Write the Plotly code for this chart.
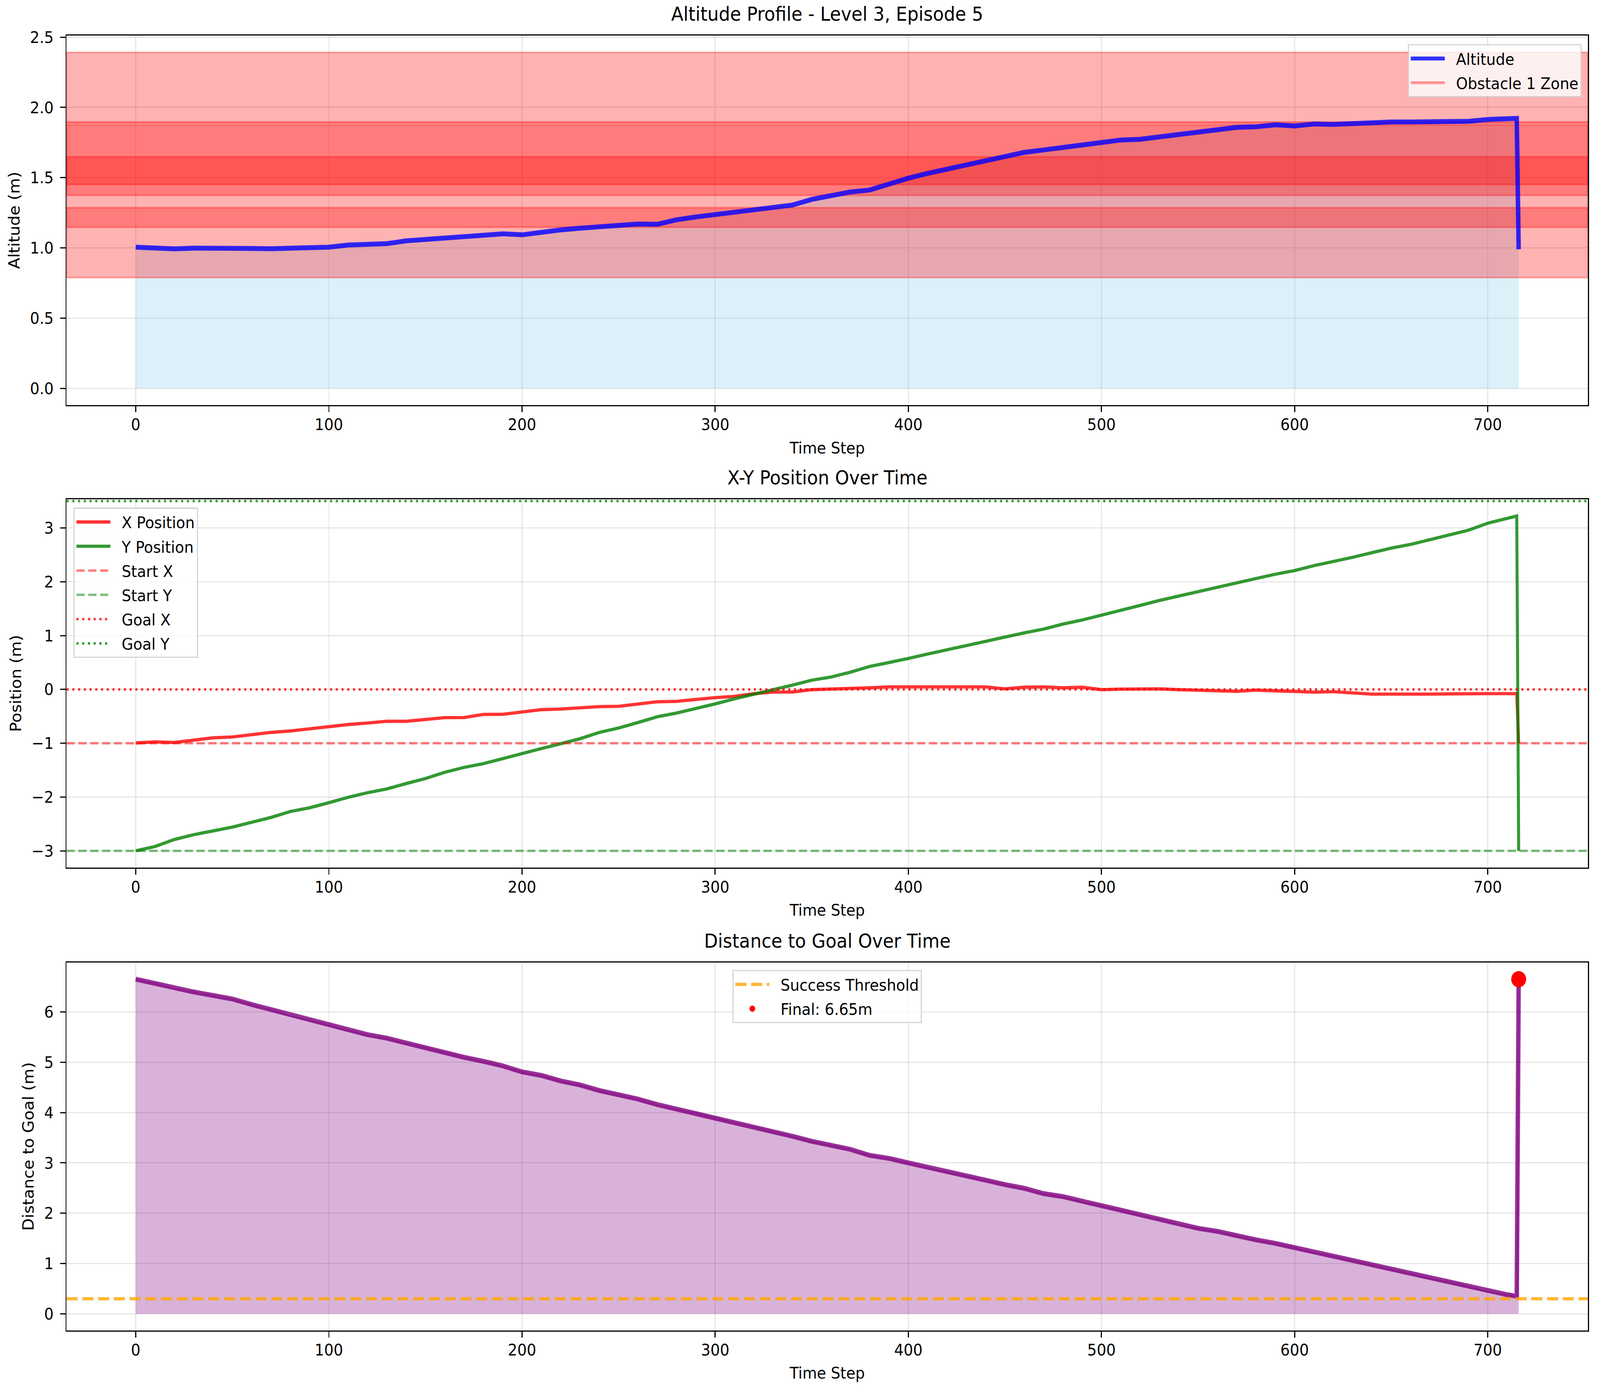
import plotly.graph_objects as go

# ---------------- data ----------------
steps = [0, 10, 20, 30, 40, 50, 60, 70, 80, 90, 100, 110, 120, 130, 140, 150, 160, 170, 180, 190,
         200, 210, 220, 230, 240, 250, 260, 270, 280, 290, 300, 310, 320, 330, 340, 350, 360, 370, 380, 390,
         400, 410, 420, 430, 440, 450, 460, 470, 480, 490, 500, 510, 520, 530, 540, 550, 560, 570, 580, 590,
         600, 610, 620, 630, 640, 650, 660, 670, 680, 690, 700, 710, 715, 716]

altitude = [1.005, 1.000, 0.993, 0.998, 1.000, 0.995, 0.996, 0.994, 0.997, 0.997,
            1.005, 1.020, 1.028, 1.030, 1.050, 1.060, 1.075, 1.082, 1.092, 1.100,
            1.093, 1.112, 1.128, 1.140, 1.150, 1.163, 1.170, 1.168, 1.200, 1.220,
            1.237, 1.255, 1.272, 1.285, 1.305, 1.345, 1.372, 1.398, 1.412, 1.457,
            1.496, 1.530, 1.560, 1.585, 1.617, 1.648, 1.680, 1.697, 1.716, 1.730,
            1.750, 1.768, 1.773, 1.790, 1.806, 1.830, 1.845, 1.858, 1.862, 1.876,
            1.868, 1.882, 1.879, 1.887, 1.894, 1.896, 1.896, 1.899, 1.900, 1.901,
            1.914, 1.919, 1.922, 0.990]

x_pos = [-0.995, -0.975, -0.986, -0.950, -0.900, -0.884, -0.835, -0.800, -0.773, -0.730,
         -0.685, -0.653, -0.625, -0.593, -0.593, -0.560, -0.525, -0.523, -0.465, -0.463,
         -0.417, -0.377, -0.366, -0.340, -0.320, -0.315, -0.273, -0.230, -0.222, -0.180,
         -0.153, -0.130, -0.080, -0.050, -0.050, -0.005, 0.005, 0.005, 0.030, 0.046,
         0.046, 0.056, 0.060, 0.050, 0.046, 0.010, 0.040, 0.046, 0.030, 0.040,
         -0.005, 0.005, 0.010, 0.010, -0.005, -0.014, -0.028, -0.037, -0.014, -0.023,
         -0.037, -0.051, -0.042, -0.070, -0.088, -0.088, -0.093, -0.088, -0.083, -0.088,
         -0.079, -0.079, -0.079, -1.000]

y_pos = [-3.000, -2.920, -2.790, -2.700, -2.630, -2.560, -2.470, -2.380, -2.270, -2.200,
         -2.106, -2.005, -1.920, -1.850, -1.750, -1.657, -1.540, -1.450, -1.380, -1.287,
         -1.180, -1.100, -1.010, -0.917, -0.800, -0.718, -0.616, -0.509, -0.440, -0.361,
         -0.269, -0.176, -0.083, -0.005, 0.079, 0.171, 0.230, 0.320, 0.426, 0.495,
         0.574, 0.657, 0.736, 0.820, 0.900, 0.968, 1.050, 1.120, 1.213, 1.290,
         1.375, 1.468, 1.560, 1.653, 1.736, 1.824, 1.894, 1.977, 2.060, 2.140,
         2.208, 2.300, 2.370, 2.454, 2.540, 2.625, 2.694, 2.787, 2.866, 2.958,
         3.088, 3.171, 3.222, -3.000]

distance = [6.653, 6.570, 6.470, 6.400, 6.330, 6.260, 6.150, 6.050, 5.930, 5.840,
            5.740, 5.640, 5.550, 5.480, 5.380, 5.300, 5.200, 5.100, 5.020, 4.930,
            4.810, 4.740, 4.630, 4.550, 4.440, 4.360, 4.270, 4.160, 4.070, 3.995,
            3.900, 3.800, 3.720, 3.620, 3.530, 3.430, 3.350, 3.270, 3.150, 3.090,
            3.000, 2.910, 2.820, 2.740, 2.660, 2.570, 2.495, 2.390, 2.330, 2.230,
            2.150, 2.060, 1.965, 1.880, 1.780, 1.700, 1.640, 1.550, 1.470, 1.400,
            1.320, 1.220, 1.150, 1.060, 0.975, 0.890, 0.800, 0.710, 0.630, 0.550,
            0.445, 0.380, 0.350, 6.653]

obstacle_low = [0.788, 1.147, 1.374, 1.451, 1.889]
obstacle_high = [2.392, 1.286, 1.876, 1.648, 1.896]

start_x, start_y = -1.0, -3.0
goal_x, goal_y = 0.0, 3.5
success_threshold = 0.3

panel_titles = ["Altitude Profile - Level 3, Episode 5", "X-Y Position Over Time", "Distance to Goal Over Time"]
y_titles = ["Altitude (m)", "Position (m)", "Distance to Goal (m)"]

# ---------------- styling helpers ----------------
W, H = 4470, 3566
PT = 300 / 72.0
FONT = "DejaVu Sans"
FS = 10 * PT
GAP = "\u00a0\u00a0"  # visual gap between legend handle and label


def padded(lo, hi, frac=0.05):
    d = (hi - lo) * frac
    return [lo - d, hi + d]


x_range = padded(min(steps), max(steps))
y1_range = padded(0.0, max(obstacle_high))
y2_range = padded(min(min(x_pos), min(y_pos)), max(max(x_pos), max(y_pos)))
y3_range = padded(0.0, max(distance))

domains = [[0.7146, 1.0], [0.3575, 0.6419], [0.0, 0.2842]]

fig = go.Figure()

# ---- panel 1: altitude ----
fig.add_trace(go.Scatter(x=steps, y=altitude, mode="lines", fill="tozeroy",
                         fillcolor="rgba(135,206,235,0.3)", line=dict(color="rgba(135,206,235,0.3)", width=1 * PT),
                         showlegend=False, hoverinfo="skip", xaxis="x", yaxis="y"))
for i, (lo, hi) in enumerate(zip(obstacle_low, obstacle_high)):
    fig.add_trace(go.Scatter(x=[x_range[0], x_range[1], x_range[1], x_range[0], x_range[0]],
                             y=[lo, lo, hi, hi, lo], mode="lines", fill="toself",
                             fillcolor="rgba(255,0,0,0.3)", line=dict(color="rgba(255,0,0,0.3)", width=1 * PT),
                             name=GAP + "Obstacle 1 Zone" if i == 0 else None, showlegend=(i == 0),
                             legend="legend", legendrank=2, legendgroup="obs",
                             hoverinfo="skip", xaxis="x", yaxis="y"))
fig.add_trace(go.Scatter(x=steps, y=altitude, mode="lines", name=GAP + "Altitude",
                         line=dict(color="rgba(0,0,255,0.8)", width=3 * PT),
                         legend="legend", legendrank=1, legendgroup="alt", xaxis="x", yaxis="y"))

# ---- panel 2: x-y position ----
fig.add_trace(go.Scatter(x=steps, y=x_pos, mode="lines", name=GAP + "X Position",
                         line=dict(color="rgba(255,0,0,0.8)", width=2 * PT),
                         legend="legend2", legendrank=1, legendgroup="xp", xaxis="x2", yaxis="y2"))
fig.add_trace(go.Scatter(x=steps, y=y_pos, mode="lines", name=GAP + "Y Position",
                         line=dict(color="rgba(0,128,0,0.8)", width=2 * PT),
                         legend="legend2", legendrank=2, legendgroup="yp", xaxis="x2", yaxis="y2"))

hlines = [
    (start_x, "Start X", "rgba(255,0,0,0.5)", "23px,10px", 3),
    (start_y, "Start Y", "rgba(0,128,0,0.5)", "23px,10px", 4),
    (goal_x, "Goal X", "rgba(255,0,0,0.8)", "6px,10px", 5),
    (goal_y, "Goal Y", "rgba(0,128,0,0.8)", "6px,10px", 6),
]
for val, nm, col, dash, rank in hlines:
    fig.add_shape(type="line", xref="x2 domain", yref="y2", x0=0, x1=1, y0=val, y1=val,
                  line=dict(color=col, width=1.5 * PT, dash=dash), layer="above",
                  showlegend=True, name=GAP + nm, legend="legend2", legendrank=rank, legendgroup=nm)

# ---- panel 3: distance ----
fig.add_trace(go.Scatter(x=steps, y=distance, mode="lines", fill="tozeroy",
                         fillcolor="rgba(128,0,128,0.3)", line=dict(color="rgba(128,0,128,0.3)", width=1 * PT),
                         showlegend=False, hoverinfo="skip", xaxis="x3", yaxis="y3"))
fig.add_trace(go.Scatter(x=steps, y=distance, mode="lines", showlegend=False,
                         line=dict(color="rgba(128,0,128,0.8)", width=3 * PT), xaxis="x3", yaxis="y3"))
fig.add_shape(type="line", xref="x3 domain", yref="y3", x0=0, x1=1,
              y0=success_threshold, y1=success_threshold,
              line=dict(color="rgba(255,165,0,0.8)", width=2 * PT, dash="31px,13px"), layer="above",
              showlegend=True, name=GAP + "Success Threshold", legend="legend3", legendrank=1, legendgroup="thr")
fig.add_trace(go.Scatter(x=[steps[-1]], y=[distance[-1]], mode="markers",
                         name=GAP + f"Final: {distance[-1]:.2f}m",
                         marker=dict(color="red", size=10 * PT, line=dict(width=0)),
                         legend="legend3", legendrank=2, legendgroup="fin", cliponaxis=False,
                         xaxis="x3", yaxis="y3"))

# ---------------- axes ----------------
axis_common = dict(
    showline=True, mirror=True, linecolor="black", linewidth=0.8 * PT,
    ticks="outside", ticklen=3.5 * PT, tickwidth=0.8 * PT, tickcolor="black",
    tickfont=dict(family=FONT, size=FS, color="black"),
    showgrid=True, gridcolor="rgba(176,176,176,0.3)", gridwidth=0.8 * PT,
    zeroline=False,
)

layout = dict(
    width=W, height=H,
    margin=dict(l=186, r=34, t=91, b=160, pad=0),
    paper_bgcolor="white", plot_bgcolor="white",
    font=dict(family=FONT, size=FS, color="black"),
    hovermode=False,
)

y_ranges = [y1_range, y2_range, y3_range]
y_ticks = [dict(tickmode="array", tickvals=[0, 0.5, 1.0, 1.5, 2.0, 2.5], ticktext=["0.0", "0.5", "1.0", "1.5", "2.0", "2.5"]),
           dict(dtick=1, tick0=0),
           dict(dtick=1, tick0=0)]

for i in range(3):
    xa = "xaxis" if i == 0 else f"xaxis{i + 1}"
    ya = "yaxis" if i == 0 else f"yaxis{i + 1}"
    yname = "y" if i == 0 else f"y{i + 1}"
    xname = "x" if i == 0 else f"x{i + 1}"
    layout[xa] = dict(axis_common, domain=[0, 1], range=x_range, anchor=yname, dtick=100, tick0=0,
                      ticklabelstandoff=-4,
                      title=dict(text="Time Step", font=dict(family=FONT, size=FS, color="black"), standoff=22))
    layout[ya] = dict(axis_common, domain=domains[i], range=y_ranges[i], anchor=xname,
                      ticklabelstandoff=10,
                      title=dict(text=y_titles[i], font=dict(family=FONT, size=FS, color="black"), standoff=16),
                      **y_ticks[i])

legend_common = dict(
    bgcolor="rgba(255,255,255,0.8)", bordercolor="rgba(204,204,204,0.8)", borderwidth=0.8 * PT,
    font=dict(family=FONT, size=FS, color="black"), itemwidth=95, tracegroupgap=5,
    traceorder="grouped",
)
layout["legend"] = dict(legend_common, x=0.996, xanchor="right", y=0.9934, yanchor="top")
layout["legend2"] = dict(legend_common, x=0.0045, xanchor="left", y=0.6355, yanchor="top")
layout["legend3"] = dict(legend_common, x=0.5, xanchor="center", y=0.2784, yanchor="top")

annotations = []
for i in range(3):
    annotations.append(dict(text=panel_titles[i], x=0.5, xref="paper", y=domains[i][1], yref="paper",
                            xanchor="center", yanchor="bottom", yshift=24, showarrow=False,
                            font=dict(family=FONT, size=12 * PT, color="black")))
layout["annotations"] = annotations

fig.update_layout(**layout)

# fit the fixed-size figure to whatever viewport the page is shown in
post = (
    "document.documentElement.style.margin='0';"
    "document.documentElement.style.overflow='hidden';"
    "document.body.style.margin='0';"
    "document.body.style.overflow='hidden';"
    "var gd=document.getElementById('{plot_id}');"
    "var sx=window.innerWidth/" + str(W) + ", sy=window.innerHeight/" + str(H) + ";"
    "if(Math.abs(sx-1)>0.001||Math.abs(sy-1)>0.001){gd.style.transformOrigin='0 0';"
    "gd.style.transform='scale('+sx+','+sy+')';}"
)
fig.write_html("out.html", post_script=post, config={"displayModeBar": False})
